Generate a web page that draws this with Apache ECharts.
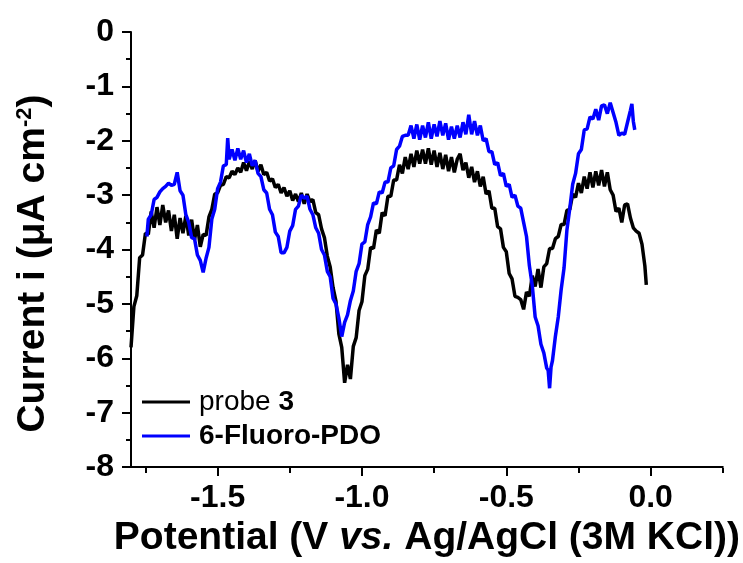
<!DOCTYPE html>
<html>
<head>
<meta charset="utf-8">
<script src="https://cdn.jsdelivr.net/npm/echarts@6/dist/echarts.min.js"></script>
<style>html,body{margin:0;padding:0;background:#fff}#c{width:743px;height:563px}</style>
</head>
<body>
<div id="c"></div>
<script>
// Potential (V) and current (µA cm^-2)
const probe3V = [-1.80,-1.79,-1.78,-1.77,-1.76,-1.75,-1.74,-1.73,-1.72,-1.71,-1.70,-1.69,-1.68,-1.67,-1.66,-1.65,-1.64,-1.63,-1.62,-1.61,-1.60,-1.59,-1.58,-1.57,-1.56,-1.55,-1.54,-1.53,-1.52,-1.51,-1.50,-1.49,-1.48,-1.47,-1.46,-1.45,-1.44,-1.43,-1.42,-1.41,-1.40,-1.39,-1.38,-1.37,-1.36,-1.35,-1.34,-1.33,-1.32,-1.31,-1.30,-1.29,-1.28,-1.27,-1.26,-1.25,-1.24,-1.23,-1.22,-1.21,-1.20,-1.19,-1.18,-1.17,-1.16,-1.15,-1.14,-1.13,-1.12,-1.11,-1.10,-1.09,-1.08,-1.07,-1.06,-1.05,-1.04,-1.03,-1.02,-1.01,-1.00,-0.99,-0.98,-0.97,-0.96,-0.95,-0.94,-0.93,-0.92,-0.91,-0.90,-0.89,-0.88,-0.87,-0.86,-0.85,-0.84,-0.83,-0.82,-0.81,-0.80,-0.79,-0.78,-0.77,-0.76,-0.75,-0.74,-0.73,-0.72,-0.71,-0.70,-0.69,-0.68,-0.67,-0.66,-0.65,-0.64,-0.63,-0.62,-0.61,-0.60,-0.59,-0.58,-0.57,-0.56,-0.55,-0.54,-0.53,-0.52,-0.51,-0.50,-0.49,-0.48,-0.47,-0.46,-0.45,-0.44,-0.43,-0.42,-0.41,-0.40,-0.39,-0.38,-0.37,-0.36,-0.35,-0.34,-0.33,-0.32,-0.31,-0.30,-0.29,-0.28,-0.27,-0.26,-0.25,-0.24,-0.23,-0.22,-0.21,-0.20,-0.19,-0.18,-0.17,-0.16,-0.15,-0.14,-0.13,-0.12,-0.11,-0.10,-0.09,-0.08,-0.07,-0.06,-0.05,-0.04,-0.03,-0.02,-0.015];
const probe3I = [-5.80,-5.05,-4.85,-4.15,-4.10,-3.70,-3.72,-3.30,-3.60,-3.22,-3.55,-3.18,-3.50,-3.28,-3.66,-3.36,-3.80,-3.42,-3.70,-3.38,-3.74,-3.45,-3.82,-3.55,-3.95,-3.72,-3.74,-3.40,-3.26,-2.98,-2.96,-2.82,-2.80,-2.66,-2.68,-2.56,-2.62,-2.50,-2.58,-2.40,-2.55,-2.38,-2.52,-2.36,-2.56,-2.44,-2.62,-2.58,-2.74,-2.70,-2.86,-2.80,-2.96,-2.86,-3.02,-2.92,-3.10,-2.98,-3.12,-2.96,-3.16,-2.98,-3.12,-3.08,-3.32,-3.36,-3.62,-3.78,-4.12,-4.32,-4.70,-4.95,-5.55,-5.80,-6.45,-6.12,-6.38,-5.78,-5.62,-5.12,-4.96,-4.48,-4.36,-3.96,-3.98,-3.64,-3.70,-3.32,-3.38,-3.02,-3.02,-2.72,-2.72,-2.44,-2.60,-2.30,-2.52,-2.24,-2.48,-2.18,-2.42,-2.16,-2.42,-2.14,-2.44,-2.18,-2.48,-2.22,-2.52,-2.26,-2.56,-2.30,-2.58,-2.34,-2.24,-2.54,-2.40,-2.68,-2.48,-2.76,-2.56,-2.84,-2.66,-2.98,-2.92,-3.24,-3.24,-3.58,-3.62,-3.96,-4.04,-4.44,-4.54,-4.86,-4.88,-4.92,-5.10,-4.78,-4.86,-4.48,-4.68,-4.36,-4.70,-4.32,-4.26,-3.98,-3.98,-3.80,-3.76,-3.54,-3.54,-3.28,-3.26,-2.98,-3.04,-2.78,-2.96,-2.66,-2.88,-2.58,-2.86,-2.56,-2.82,-2.54,-2.84,-2.58,-2.90,-3.00,-3.30,-3.24,-3.50,-3.18,-3.16,-3.42,-3.60,-3.66,-3.70,-3.90,-4.30,-4.65];
const fluoroV = [-1.745,-1.74,-1.73,-1.72,-1.71,-1.70,-1.69,-1.68,-1.67,-1.66,-1.65,-1.64,-1.63,-1.62,-1.61,-1.60,-1.59,-1.58,-1.57,-1.56,-1.55,-1.54,-1.53,-1.52,-1.51,-1.50,-1.49,-1.48,-1.47,-1.465,-1.46,-1.45,-1.44,-1.43,-1.42,-1.41,-1.40,-1.39,-1.38,-1.37,-1.36,-1.35,-1.34,-1.33,-1.32,-1.31,-1.30,-1.29,-1.28,-1.27,-1.26,-1.25,-1.24,-1.23,-1.22,-1.21,-1.20,-1.19,-1.18,-1.17,-1.16,-1.15,-1.14,-1.13,-1.12,-1.11,-1.10,-1.09,-1.08,-1.07,-1.06,-1.05,-1.04,-1.03,-1.02,-1.01,-1.00,-0.99,-0.98,-0.97,-0.96,-0.95,-0.94,-0.93,-0.92,-0.91,-0.90,-0.89,-0.88,-0.87,-0.86,-0.85,-0.84,-0.83,-0.82,-0.81,-0.80,-0.79,-0.78,-0.77,-0.76,-0.75,-0.74,-0.73,-0.72,-0.71,-0.70,-0.69,-0.68,-0.67,-0.66,-0.65,-0.64,-0.63,-0.62,-0.61,-0.60,-0.59,-0.58,-0.57,-0.56,-0.55,-0.54,-0.53,-0.52,-0.51,-0.50,-0.49,-0.48,-0.47,-0.46,-0.45,-0.44,-0.43,-0.42,-0.41,-0.40,-0.39,-0.38,-0.37,-0.36,-0.355,-0.35,-0.345,-0.34,-0.33,-0.32,-0.31,-0.30,-0.29,-0.28,-0.27,-0.26,-0.25,-0.24,-0.23,-0.22,-0.21,-0.20,-0.19,-0.18,-0.17,-0.16,-0.15,-0.14,-0.13,-0.12,-0.11,-0.10,-0.09,-0.08,-0.07,-0.065,-0.06,-0.055];
const fluoroI = [-3.76,-3.44,-3.36,-3.08,-3.04,-2.94,-2.88,-2.84,-2.78,-2.82,-2.80,-2.58,-2.92,-3.00,-3.36,-3.50,-3.78,-3.80,-4.10,-4.20,-4.42,-4.16,-3.96,-3.44,-3.26,-2.88,-2.76,-2.46,-2.44,-1.95,-2.34,-2.16,-2.36,-2.14,-2.34,-2.18,-2.40,-2.24,-2.46,-2.36,-2.60,-2.66,-2.90,-2.96,-3.26,-3.36,-3.68,-3.76,-4.06,-4.06,-3.96,-3.66,-3.56,-3.26,-3.20,-3.00,-3.06,-3.02,-3.26,-3.36,-3.60,-3.70,-4.00,-4.10,-4.40,-4.50,-4.90,-5.00,-5.26,-5.60,-5.34,-5.20,-4.94,-4.76,-4.40,-4.26,-3.90,-3.86,-3.54,-3.40,-3.14,-3.16,-2.94,-2.96,-2.76,-2.76,-2.50,-2.46,-2.16,-2.10,-1.92,-1.90,-1.90,-1.72,-1.96,-1.70,-1.98,-1.72,-1.94,-1.66,-1.96,-1.70,-1.92,-1.64,-1.90,-1.68,-1.98,-1.74,-1.96,-1.72,-1.94,-1.66,-1.88,-1.52,-1.88,-1.64,-1.90,-1.72,-2.00,-1.96,-2.20,-2.20,-2.44,-2.40,-2.64,-2.60,-2.84,-2.80,-3.04,-3.00,-3.20,-3.24,-3.50,-3.76,-4.30,-4.66,-5.24,-5.40,-5.74,-5.90,-6.18,-6.22,-6.55,-6.16,-6.04,-5.60,-5.24,-4.74,-4.34,-3.64,-3.24,-2.80,-2.60,-2.24,-2.16,-1.80,-1.78,-1.56,-1.60,-1.42,-1.62,-1.36,-1.34,-1.50,-1.30,-1.48,-1.66,-1.90,-1.86,-1.88,-1.66,-1.44,-1.32,-1.64,-1.80];
const xMajorTicks = [-1.5, -1.0, -0.5, 0.0];
const xMinorTicks = [-1.75, -1.25, -0.75, -0.25, 0.25];
const seriesNames = ['probe 3', '6-Fluoro-PDO'];

const pair = (xs, ys) => xs.map((x, i) => [x, ys[i]]);
const FONT = '"Liberation Sans", Arial, sans-serif';
const GRID = {left: 131, right: 20, top: 32, bottom: 95};

const chart = echarts.init(document.getElementById('c'), null, {renderer: 'canvas'});
chart.setOption({
  animation: false,
  backgroundColor: '#fff',
  grid: [Object.assign({}, GRID), Object.assign({}, GRID)],
  legend: {
    orient: 'vertical', left: 137, top: 383, itemGap: 6,
    icon: 'rect', itemWidth: 48, itemHeight: 3,
    data: seriesNames,
    formatter: n => n === 'probe 3' ? '{n|probe }{b|3}' : '{b|' + n + '}',
    textStyle: {
      padding: [0, 0, 0, 4],
      rich: {
        n: {fontFamily: FONT, fontSize: 28, fontWeight: 'normal', color: '#000', lineHeight: 30},
        b: {fontFamily: FONT, fontSize: 28, fontWeight: 'bold', color: '#000', lineHeight: 30}
      }
    }
  },
  xAxis: [{
    gridIndex: 0, type: 'value', min: -1.8, max: 0.25,
    name: 'Potential (V {i|vs.} Ag/AgCl (3M KCl))',
    nameLocation: 'middle', nameGap: 48,
    nameTextStyle: {fontFamily: FONT, fontSize: 39, fontWeight: 'bold', color: '#000',
      rich: {i: {fontFamily: FONT, fontSize: 39, fontWeight: 'bold', fontStyle: 'italic', color: '#000'}}},
    axisLine: {show: true, onZero: false, lineStyle: {color: '#000', width: 2}},
    axisTick: {show: true, inside: false, length: 9, lineStyle: {color: '#000', width: 2}, customValues: xMajorTicks},
    axisLabel: {show: true, margin: 15, fontFamily: FONT, fontSize: 32, fontWeight: 'bold', color: '#000',
      customValues: xMajorTicks, formatter: v => v.toFixed(1)},
    splitLine: {show: false}
  }, {
    gridIndex: 1, type: 'value', min: -1.8, max: 0.25, position: 'bottom',
    axisLine: {show: false, onZero: false},
    axisTick: {show: true, inside: false, length: 5, lineStyle: {color: '#000', width: 2}, customValues: xMinorTicks},
    axisLabel: {show: false},
    splitLine: {show: false}
  }],
  yAxis: [{
    gridIndex: 0, type: 'value', min: -8, max: 0, interval: 1,
    name: '{a|Current i (μA cm}{s|-2}{a|)}',
    nameLocation: 'middle', nameGap: 78, nameRotate: 90,
    nameTextStyle: {padding: [0, 28, 0, 0], rich: {
      a: {fontFamily: FONT, fontSize: 39, fontWeight: 'bold', color: '#000'},
      s: {fontFamily: FONT, fontSize: 22, fontWeight: 'bold', color: '#000', verticalAlign: 'top', padding: [0, 0, 16, 0]}
    }},
    axisLine: {show: true, onZero: false, lineStyle: {color: '#000', width: 2}},
    axisTick: {show: true, inside: false, length: 9, lineStyle: {color: '#000', width: 2}},
    minorTick: {show: true, splitNumber: 2, length: 5, lineStyle: {color: '#000', width: 2}},
    axisLabel: {margin: 17, fontFamily: FONT, fontSize: 32, fontWeight: 'bold', color: '#000'},
    splitLine: {show: false},
    minorSplitLine: {show: false}
  }, {
    gridIndex: 1, type: 'value', min: -8, max: 0, show: false
  }],
  series: [{
    name: seriesNames[0], type: 'line', xAxisIndex: 0, yAxisIndex: 0, showSymbol: false, symbol: 'none',
    data: pair(probe3V, probe3I), color: '#000',
    lineStyle: {color: '#000', width: 3.5}
  }, {
    name: seriesNames[1], type: 'line', xAxisIndex: 0, yAxisIndex: 0, showSymbol: false, symbol: 'none',
    data: pair(fluoroV, fluoroI), color: '#0000ff',
    lineStyle: {color: '#0000ff', width: 3.5}
  }]
});
</script>
</body>
</html>
